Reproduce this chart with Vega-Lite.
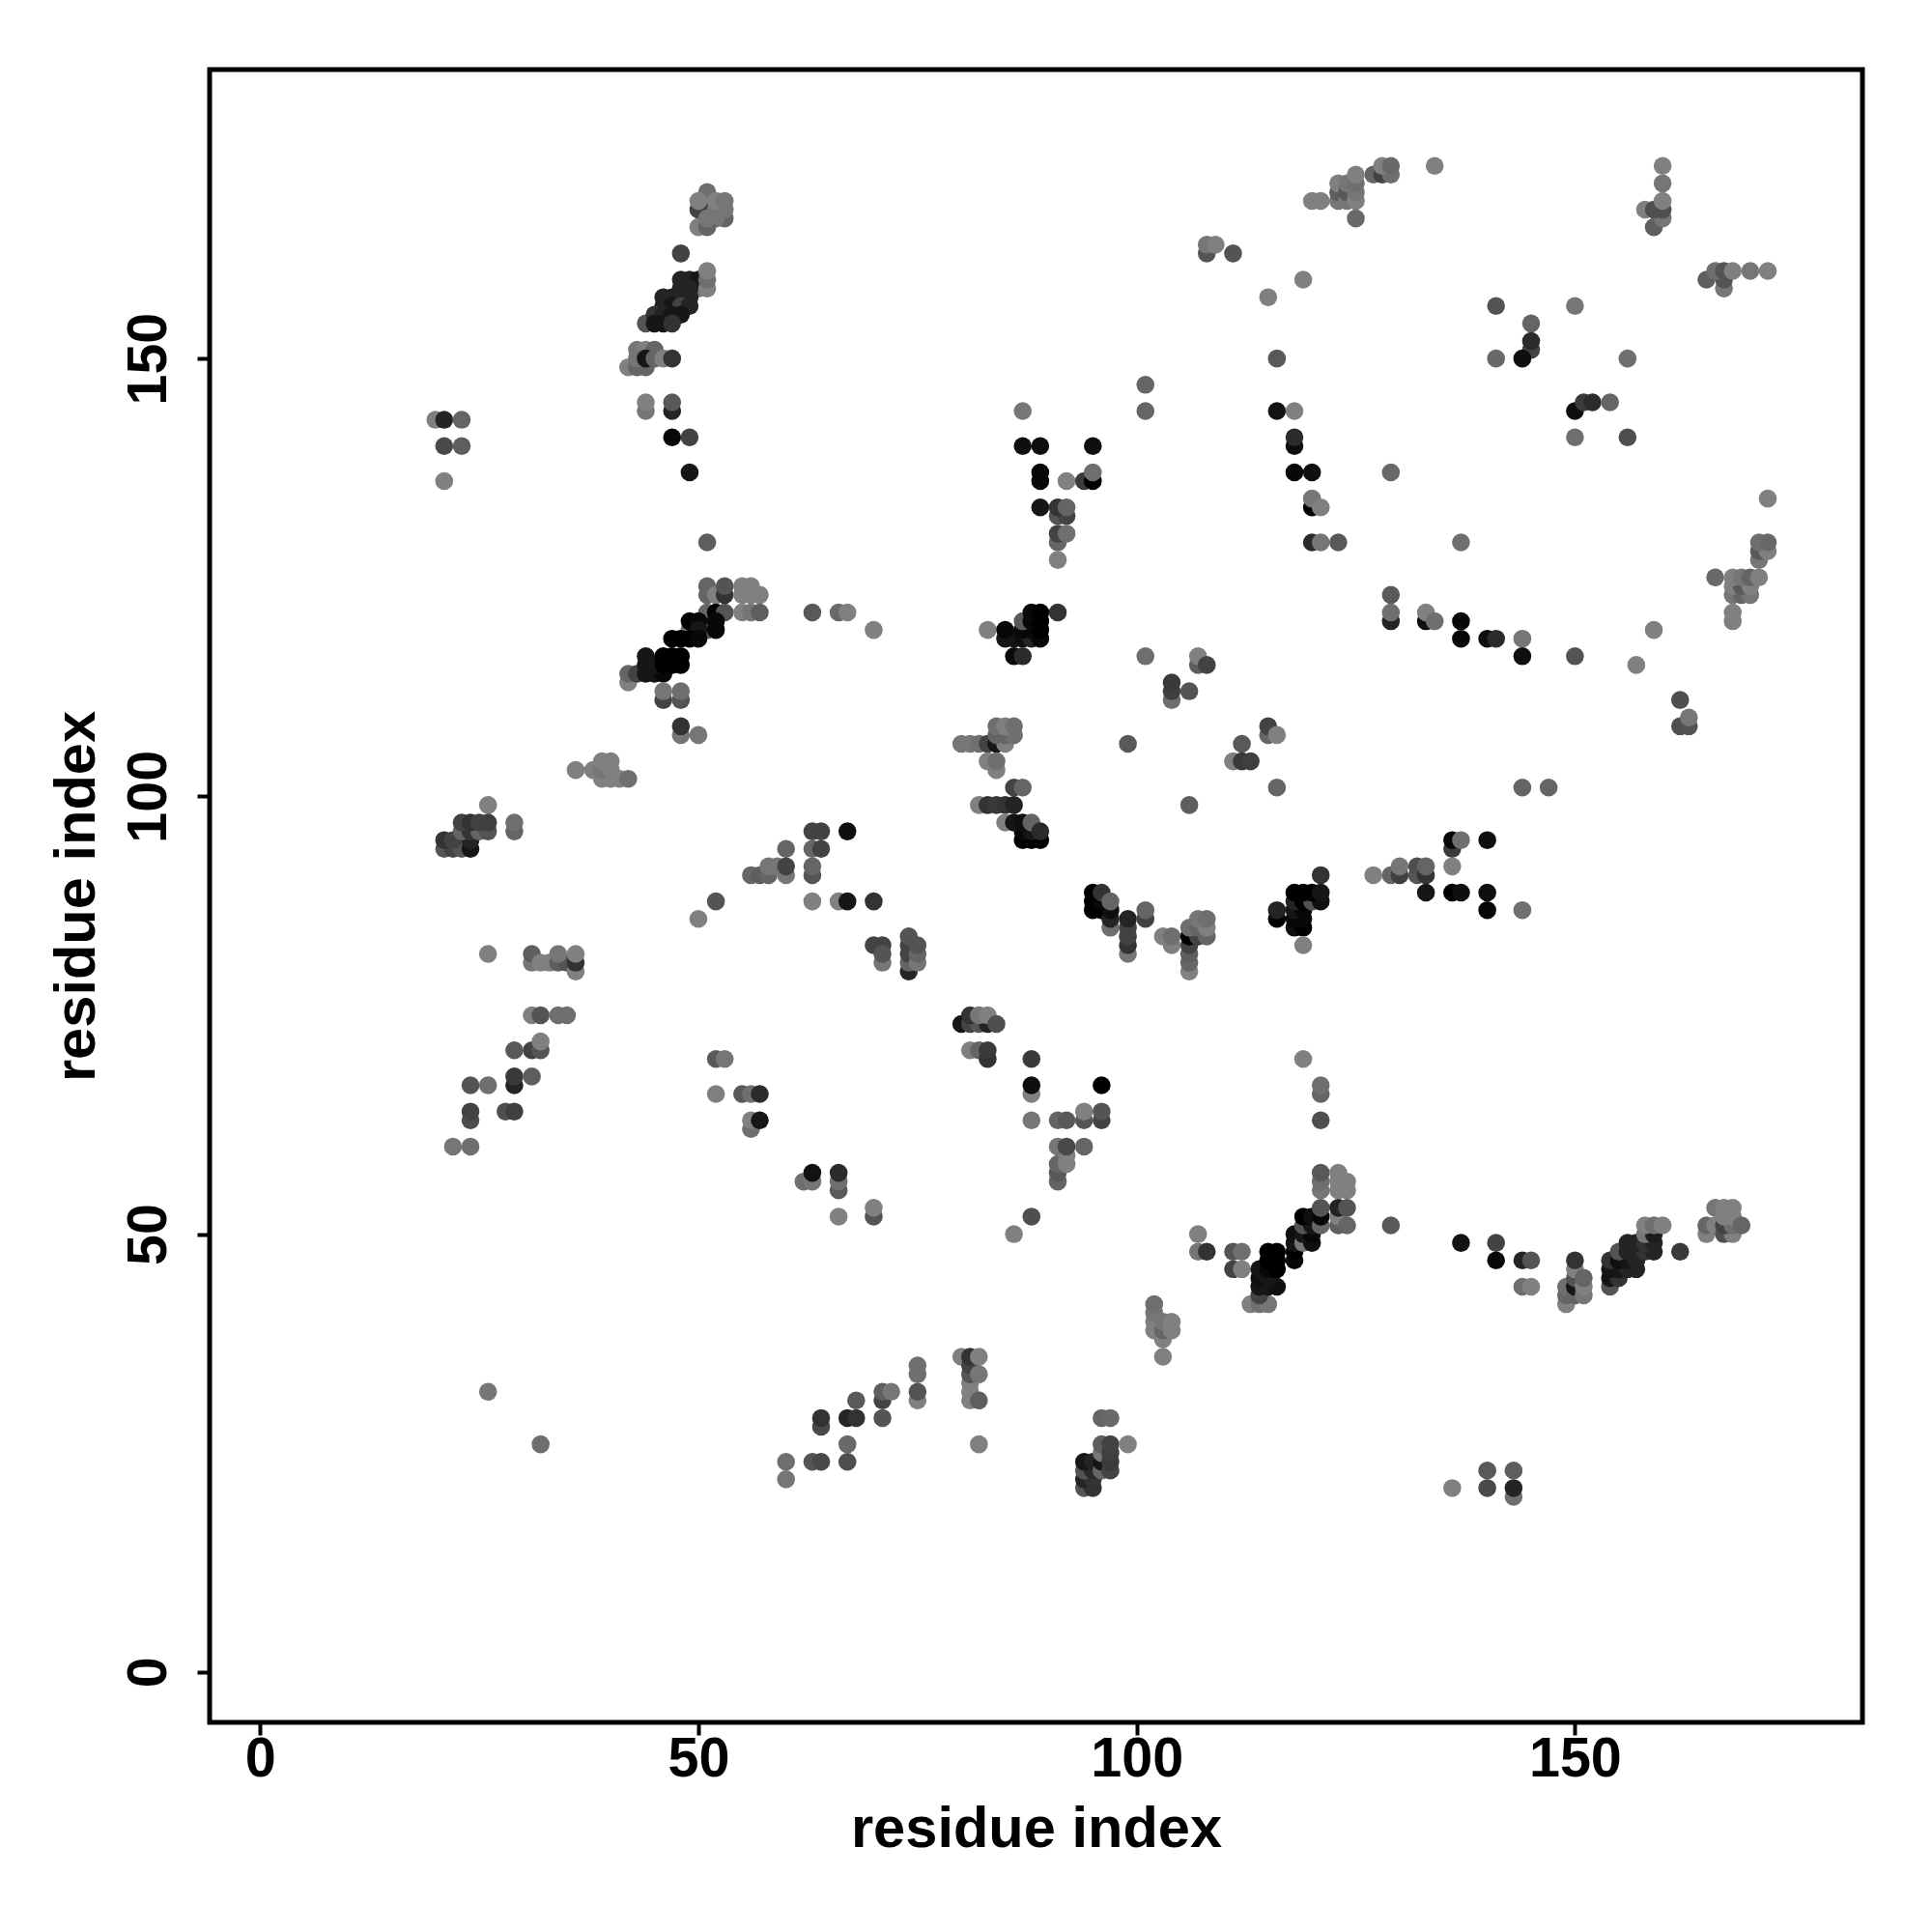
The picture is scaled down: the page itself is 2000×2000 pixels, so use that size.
{"$schema":"https://vega.github.io/schema/vega-lite/v6.json","autosize":{"type":"none"},"padding":{"left":217,"top":72,"right":72,"bottom":217},"width":1711,"height":1711,"background":"white","view":{"stroke":"black","strokeWidth":5,"fill":"white"},"data":{"values":[
{"x":20,"y":143,"g":128},{"x":21,"y":143,"g":34},{"x":23,"y":143,"g":102},{"x":21,"y":140,"g":74},{"x":23,"y":140,"g":95},{"x":21,"y":136,"g":128},
{"x":50,"y":167,"g":68},{"x":51,"y":167,"g":68},{"x":51,"y":169,"g":112},{"x":50,"y":168,"g":128},{"x":53,"y":166,"g":102},{"x":52,"y":166,"g":119},{"x":52,"y":167,"g":119},{"x":53,"y":167,"g":119},{"x":52,"y":168,"g":128},{"x":53,"y":168,"g":119},{"x":50,"y":165,"g":128},{"x":51,"y":165,"g":102},{"x":51,"y":166,"g":119},{"x":48,"y":162,"g":68},
{"x":50,"y":158,"g":119},{"x":48,"y":159,"g":34},{"x":49,"y":159,"g":34},{"x":50,"y":159,"g":17},{"x":48,"y":158,"g":34},{"x":49,"y":158,"g":34},{"x":46,"y":157,"g":34},{"x":47,"y":157,"g":34},{"x":48,"y":157,"g":34},{"x":49,"y":157,"g":34},{"x":46,"y":156,"g":34},{"x":47,"y":156,"g":17},{"x":48,"y":156,"g":68},{"x":49,"y":156,"g":34},{"x":44,"y":154,"g":85},{"x":45,"y":155,"g":51},{"x":46,"y":155,"g":34},{"x":47,"y":155,"g":17},{"x":48,"y":155,"g":17},{"x":45,"y":154,"g":17},{"x":46,"y":154,"g":17},{"x":47,"y":154,"g":51},{"x":51,"y":158,"g":128},{"x":51,"y":159,"g":112},{"x":51,"y":160,"g":128},
{"x":42,"y":149,"g":128},{"x":43,"y":149,"g":102},{"x":44,"y":149,"g":102},{"x":43,"y":151,"g":119},{"x":44,"y":151,"g":128},{"x":45,"y":151,"g":102},{"x":43,"y":150,"g":119},{"x":44,"y":150,"g":17},{"x":45,"y":150,"g":102},{"x":46,"y":150,"g":128},{"x":47,"y":150,"g":51},
{"x":44,"y":144,"g":119},{"x":44,"y":145,"g":128},{"x":47,"y":144,"g":34},{"x":47,"y":145,"g":90},{"x":47,"y":141,"g":5},{"x":49,"y":141,"g":68},{"x":49,"y":137,"g":17},
{"x":51,"y":129,"g":95},{"x":51,"y":123,"g":102},{"x":51,"y":124,"g":102},{"x":52,"y":123,"g":128},{"x":53,"y":123,"g":51},{"x":53,"y":124,"g":85},{"x":55,"y":124,"g":128},{"x":56,"y":124,"g":128},{"x":55,"y":123,"g":128},{"x":56,"y":123,"g":128},{"x":57,"y":123,"g":128},{"x":51,"y":121,"g":102},{"x":52,"y":121,"g":0},{"x":53,"y":121,"g":85},{"x":55,"y":121,"g":128},{"x":56,"y":121,"g":119},{"x":57,"y":121,"g":95},
{"x":49,"y":119,"g":119},{"x":51,"y":119,"g":85},{"x":49,"y":120,"g":0},{"x":50,"y":120,"g":5},{"x":52,"y":120,"g":5},{"x":50,"y":119,"g":17},{"x":52,"y":119,"g":5},{"x":47,"y":118,"g":0},{"x":48,"y":118,"g":0},{"x":49,"y":118,"g":0},{"x":50,"y":118,"g":5},
{"x":42,"y":113,"g":128},{"x":42,"y":114,"g":102},{"x":43,"y":114,"g":68},{"x":44,"y":114,"g":17},{"x":45,"y":114,"g":17},{"x":46,"y":114,"g":5},{"x":44,"y":115,"g":17},{"x":45,"y":115,"g":17},{"x":46,"y":115,"g":0},{"x":47,"y":115,"g":0},{"x":48,"y":115,"g":0},{"x":44,"y":116,"g":17},{"x":46,"y":116,"g":0},{"x":47,"y":116,"g":0},{"x":48,"y":116,"g":0},
{"x":46,"y":111,"g":68},{"x":48,"y":111,"g":85},{"x":46,"y":112,"g":119},{"x":48,"y":112,"g":112},{"x":48,"y":107,"g":119},{"x":50,"y":107,"g":119},{"x":48,"y":108,"g":51},
{"x":36,"y":103,"g":128},{"x":38,"y":103,"g":128},{"x":39,"y":102,"g":128},{"x":40,"y":102,"g":128},{"x":39,"y":103,"g":119},{"x":40,"y":103,"g":128},{"x":39,"y":104,"g":128},{"x":40,"y":104,"g":128},{"x":41,"y":102,"g":128},{"x":42,"y":102,"g":112},
{"x":26,"y":99,"g":128},{"x":21,"y":94,"g":85},{"x":22,"y":94,"g":68},{"x":23,"y":94,"g":85},{"x":24,"y":94,"g":17},{"x":21,"y":95,"g":51},{"x":22,"y":95,"g":68},{"x":24,"y":95,"g":34},{"x":23,"y":96,"g":102},{"x":24,"y":96,"g":51},{"x":25,"y":96,"g":102},{"x":26,"y":96,"g":85},{"x":23,"y":97,"g":68},{"x":24,"y":97,"g":51},{"x":25,"y":97,"g":68},{"x":26,"y":97,"g":64},{"x":29,"y":96,"g":102},{"x":29,"y":97,"g":112},
{"x":60,"y":94,"g":102},{"x":56,"y":91,"g":102},{"x":57,"y":91,"g":95},{"x":58,"y":91,"g":102},{"x":60,"y":91,"g":119},{"x":58,"y":92,"g":119},{"x":59,"y":92,"g":119},{"x":60,"y":92,"g":68},{"x":52,"y":88,"g":85},{"x":50,"y":86,"g":128},
{"x":26,"y":82,"g":128},{"x":31,"y":81,"g":119},{"x":31,"y":82,"g":95},{"x":32,"y":81,"g":128},{"x":33,"y":81,"g":128},{"x":34,"y":81,"g":95},{"x":35,"y":81,"g":85},{"x":34,"y":82,"g":119},{"x":36,"y":80,"g":128},{"x":36,"y":81,"g":51},{"x":36,"y":82,"g":128},
{"x":31,"y":75,"g":128},{"x":32,"y":75,"g":85},{"x":34,"y":75,"g":112},{"x":35,"y":75,"g":112},{"x":29,"y":71,"g":90},{"x":31,"y":71,"g":68},{"x":32,"y":71,"g":85},{"x":32,"y":72,"g":128},{"x":29,"y":67,"g":34},{"x":29,"y":68,"g":58},{"x":31,"y":68,"g":95},{"x":24,"y":67,"g":85},{"x":26,"y":67,"g":112},{"x":24,"y":63,"g":77},{"x":24,"y":64,"g":68},{"x":28,"y":64,"g":80},{"x":29,"y":64,"g":64},{"x":22,"y":60,"g":119},{"x":24,"y":60,"g":112},
{"x":26,"y":32,"g":119},{"x":32,"y":26,"g":112},
{"x":52,"y":70,"g":90},{"x":53,"y":70,"g":119},{"x":52,"y":66,"g":128},{"x":55,"y":66,"g":90},{"x":56,"y":66,"g":112},{"x":57,"y":66,"g":42},{"x":56,"y":62,"g":112},{"x":56,"y":63,"g":128},{"x":57,"y":63,"g":17},
{"x":62,"y":56,"g":112},{"x":63,"y":56,"g":119},{"x":63,"y":57,"g":13},{"x":66,"y":55,"g":90},{"x":66,"y":56,"g":112},{"x":66,"y":57,"g":42},{"x":66,"y":52,"g":128},{"x":70,"y":52,"g":85},{"x":70,"y":53,"g":128},
{"x":88,"y":63,"g":119},{"x":91,"y":63,"g":102},{"x":92,"y":63,"g":90},{"x":94,"y":63,"g":85},{"x":94,"y":64,"g":128},{"x":96,"y":63,"g":68},{"x":96,"y":64,"g":85},{"x":91,"y":56,"g":102},{"x":91,"y":57,"g":90},{"x":91,"y":58,"g":102},{"x":92,"y":58,"g":128},{"x":92,"y":59,"g":128},{"x":91,"y":60,"g":119},{"x":92,"y":60,"g":74},{"x":94,"y":60,"g":102},{"x":88,"y":52,"g":80},{"x":86,"y":50,"g":128},
{"x":60,"y":24,"g":112},{"x":60,"y":22,"g":119},{"x":63,"y":24,"g":85},{"x":64,"y":24,"g":74},{"x":67,"y":26,"g":106},{"x":67,"y":24,"g":80},{"x":64,"y":28,"g":74},{"x":64,"y":29,"g":51},{"x":67,"y":29,"g":34},{"x":68,"y":29,"g":51},{"x":68,"y":31,"g":90},{"x":71,"y":29,"g":85},{"x":71,"y":31,"g":68},{"x":71,"y":32,"g":95},{"x":72,"y":32,"g":119},{"x":75,"y":31,"g":128},{"x":75,"y":32,"g":85},{"x":75,"y":34,"g":112},{"x":75,"y":35,"g":112},
{"x":80,"y":36,"g":128},{"x":81,"y":31,"g":128},{"x":81,"y":32,"g":128},{"x":81,"y":33,"g":128},{"x":81,"y":34,"g":85},{"x":81,"y":35,"g":68},{"x":81,"y":36,"g":51},{"x":82,"y":36,"g":128},{"x":82,"y":34,"g":119},{"x":82,"y":31,"g":95},{"x":82,"y":26,"g":128},
{"x":96,"y":29,"g":102},{"x":97,"y":29,"g":106},{"x":94,"y":21,"g":85},{"x":95,"y":21,"g":51},{"x":94,"y":22,"g":34},{"x":95,"y":22,"g":51},{"x":94,"y":23,"g":85},{"x":95,"y":23,"g":42},{"x":94,"y":24,"g":17},{"x":95,"y":24,"g":34},{"x":96,"y":23,"g":102},{"x":96,"y":24,"g":17},{"x":96,"y":25,"g":119},{"x":96,"y":26,"g":95},{"x":97,"y":23,"g":68},{"x":97,"y":24,"g":58},{"x":97,"y":25,"g":64},{"x":97,"y":26,"g":68},{"x":99,"y":26,"g":128},
{"x":87,"y":144,"g":119},{"x":101,"y":144,"g":102},{"x":101,"y":147,"g":102},{"x":116,"y":144,"g":13},{"x":118,"y":144,"g":128},{"x":87,"y":140,"g":10},{"x":89,"y":140,"g":10},{"x":95,"y":140,"g":10},{"x":118,"y":140,"g":10},{"x":118,"y":141,"g":42},{"x":89,"y":136,"g":5},{"x":89,"y":137,"g":5},{"x":92,"y":136,"g":128},{"x":94,"y":136,"g":58},{"x":95,"y":136,"g":0},{"x":95,"y":137,"g":112},{"x":118,"y":137,"g":5},{"x":120,"y":137,"g":10},
{"x":89,"y":133,"g":17},{"x":91,"y":132,"g":85},{"x":92,"y":132,"g":68},{"x":91,"y":133,"g":51},{"x":92,"y":133,"g":102},{"x":91,"y":129,"g":102},{"x":91,"y":130,"g":68},{"x":92,"y":130,"g":112},{"x":91,"y":127,"g":128},{"x":120,"y":133,"g":0},{"x":120,"y":134,"g":119},{"x":121,"y":133,"g":128},{"x":120,"y":129,"g":42},{"x":121,"y":129,"g":119},{"x":123,"y":129,"g":90},
{"x":83,"y":119,"g":128},{"x":85,"y":118,"g":17},{"x":86,"y":118,"g":17},{"x":87,"y":118,"g":10},{"x":88,"y":118,"g":34},{"x":89,"y":118,"g":5},{"x":85,"y":119,"g":5},{"x":87,"y":119,"g":5},{"x":88,"y":119,"g":5},{"x":89,"y":119,"g":0},{"x":87,"y":120,"g":90},{"x":88,"y":120,"g":5},{"x":89,"y":120,"g":0},{"x":88,"y":121,"g":5},{"x":89,"y":121,"g":0},{"x":91,"y":121,"g":51},{"x":86,"y":116,"g":5},{"x":87,"y":116,"g":42},
{"x":101,"y":116,"g":112},{"x":107,"y":115,"g":95},{"x":107,"y":116,"g":128},{"x":108,"y":115,"g":68},{"x":104,"y":111,"g":112},{"x":104,"y":112,"g":64},{"x":104,"y":113,"g":58},{"x":106,"y":112,"g":85},{"x":99,"y":106,"g":90},{"x":115,"y":107,"g":102},{"x":115,"y":108,"g":68},{"x":116,"y":107,"g":128},{"x":112,"y":106,"g":90},{"x":111,"y":104,"g":128},{"x":112,"y":104,"g":58},{"x":113,"y":104,"g":64},
{"x":80,"y":106,"g":119},{"x":81,"y":106,"g":119},{"x":82,"y":106,"g":112},{"x":83,"y":106,"g":68},{"x":84,"y":106,"g":17},{"x":85,"y":106,"g":128},{"x":84,"y":107,"g":102},{"x":85,"y":107,"g":102},{"x":86,"y":107,"g":112},{"x":84,"y":108,"g":112},{"x":85,"y":108,"g":128},{"x":86,"y":108,"g":112},{"x":84,"y":103,"g":128},{"x":83,"y":104,"g":128},{"x":84,"y":104,"g":112},
{"x":86,"y":101,"g":68},{"x":87,"y":101,"g":102},{"x":82,"y":99,"g":128},{"x":83,"y":99,"g":51},{"x":84,"y":99,"g":58},{"x":85,"y":99,"g":51},{"x":86,"y":99,"g":34},{"x":85,"y":97,"g":128},{"x":87,"y":95,"g":0},{"x":88,"y":95,"g":0},{"x":89,"y":95,"g":0},{"x":87,"y":96,"g":5},{"x":88,"y":96,"g":17},{"x":86,"y":97,"g":17},{"x":87,"y":97,"g":10},{"x":88,"y":97,"g":102},{"x":89,"y":96,"g":42},{"x":106,"y":99,"g":95},{"x":116,"y":101,"g":102},
{"x":95,"y":87,"g":0},{"x":96,"y":87,"g":0},{"x":97,"y":85,"g":112},{"x":97,"y":86,"g":34},{"x":97,"y":87,"g":10},{"x":95,"y":88,"g":0},{"x":96,"y":88,"g":5},{"x":95,"y":89,"g":0},{"x":96,"y":89,"g":51},{"x":97,"y":88,"g":102},
{"x":99,"y":82,"g":119},{"x":99,"y":83,"g":51},{"x":99,"y":84,"g":68},{"x":99,"y":85,"g":68},{"x":99,"y":86,"g":34},{"x":101,"y":86,"g":68},{"x":101,"y":87,"g":102},{"x":103,"y":84,"g":128},{"x":104,"y":83,"g":128},{"x":104,"y":84,"g":112},
{"x":106,"y":80,"g":128},{"x":106,"y":81,"g":102},{"x":106,"y":82,"g":95},{"x":106,"y":83,"g":68},{"x":106,"y":84,"g":0},{"x":107,"y":84,"g":68},{"x":108,"y":84,"g":102},{"x":106,"y":85,"g":112},{"x":107,"y":85,"g":102},{"x":108,"y":85,"g":128},{"x":107,"y":86,"g":119},{"x":108,"y":86,"g":112},
{"x":121,"y":91,"g":51},{"x":116,"y":86,"g":0},{"x":116,"y":87,"g":34},{"x":118,"y":85,"g":10},{"x":119,"y":85,"g":0},{"x":118,"y":86,"g":5},{"x":119,"y":86,"g":5},{"x":118,"y":87,"g":17},{"x":119,"y":87,"g":5},{"x":118,"y":88,"g":34},{"x":119,"y":88,"g":0},{"x":120,"y":88,"g":85},{"x":121,"y":88,"g":10},{"x":118,"y":89,"g":0},{"x":119,"y":89,"g":0},{"x":120,"y":89,"g":0},{"x":121,"y":89,"g":17},{"x":119,"y":83,"g":128},
{"x":80,"y":74,"g":17},{"x":81,"y":74,"g":68},{"x":82,"y":74,"g":85},{"x":83,"y":74,"g":34},{"x":81,"y":75,"g":51},{"x":82,"y":75,"g":119},{"x":83,"y":75,"g":128},{"x":84,"y":74,"g":80},{"x":81,"y":71,"g":128},{"x":82,"y":71,"g":102},{"x":83,"y":70,"g":51},{"x":83,"y":71,"g":58},{"x":88,"y":70,"g":58},{"x":88,"y":66,"g":128},{"x":88,"y":67,"g":10},{"x":96,"y":67,"g":0},
{"x":119,"y":70,"g":128},{"x":121,"y":66,"g":102},{"x":121,"y":67,"g":112},{"x":121,"y":63,"g":80},
{"x":63,"y":96,"g":68},{"x":64,"y":96,"g":68},{"x":63,"y":94,"g":102},{"x":64,"y":94,"g":68},{"x":63,"y":91,"g":85},{"x":63,"y":92,"g":102},{"x":63,"y":88,"g":128},{"x":66,"y":88,"g":128},{"x":67,"y":88,"g":17},{"x":67,"y":96,"g":10},{"x":70,"y":88,"g":51},
{"x":70,"y":83,"g":68},{"x":71,"y":83,"g":68},{"x":71,"y":81,"g":119},{"x":71,"y":82,"g":85},{"x":74,"y":80,"g":34},{"x":74,"y":81,"g":102},{"x":74,"y":82,"g":68},{"x":74,"y":83,"g":68},{"x":74,"y":84,"g":85},{"x":75,"y":81,"g":119},{"x":75,"y":82,"g":102},{"x":75,"y":83,"g":85},
{"x":63,"y":121,"g":90},{"x":66,"y":121,"g":106},{"x":67,"y":121,"g":128},{"x":70,"y":119,"g":128},
{"x":107,"y":50,"g":128},{"x":107,"y":48,"g":119},{"x":108,"y":48,"g":51},{"x":111,"y":48,"g":85},{"x":112,"y":48,"g":112},{"x":111,"y":46,"g":68},{"x":112,"y":46,"g":128},
{"x":113,"y":42,"g":128},{"x":114,"y":42,"g":112},{"x":115,"y":42,"g":119},{"x":114,"y":43,"g":68},{"x":114,"y":44,"g":17},{"x":115,"y":44,"g":17},{"x":116,"y":44,"g":10},{"x":114,"y":45,"g":10},{"x":115,"y":45,"g":17},{"x":114,"y":46,"g":17},{"x":115,"y":46,"g":5},{"x":116,"y":46,"g":0},{"x":115,"y":47,"g":0},{"x":116,"y":47,"g":0},{"x":115,"y":48,"g":0},{"x":116,"y":48,"g":0},
{"x":118,"y":47,"g":5},{"x":118,"y":48,"g":0},{"x":118,"y":49,"g":17},{"x":118,"y":50,"g":10},{"x":119,"y":49,"g":119},{"x":120,"y":49,"g":10},{"x":119,"y":50,"g":17},{"x":120,"y":50,"g":5},{"x":119,"y":51,"g":85},{"x":120,"y":51,"g":17},{"x":119,"y":52,"g":0},{"x":120,"y":52,"g":10},{"x":121,"y":51,"g":102},{"x":121,"y":52,"g":5},{"x":121,"y":53,"g":85},
{"x":121,"y":55,"g":119},{"x":121,"y":56,"g":112},{"x":121,"y":57,"g":90},{"x":123,"y":55,"g":128},{"x":124,"y":55,"g":128},{"x":123,"y":56,"g":128},{"x":124,"y":56,"g":128},{"x":123,"y":57,"g":128},{"x":123,"y":51,"g":95},{"x":123,"y":52,"g":128},{"x":123,"y":53,"g":34},{"x":124,"y":53,"g":85},{"x":124,"y":51,"g":102},{"x":129,"y":51,"g":90},{"x":137,"y":49,"g":13},{"x":141,"y":49,"g":68},{"x":141,"y":47,"g":5},
{"x":102,"y":39,"g":128},{"x":102,"y":40,"g":128},{"x":102,"y":41,"g":119},{"x":102,"y":42,"g":112},{"x":103,"y":38,"g":128},{"x":103,"y":39,"g":102},{"x":103,"y":40,"g":119},{"x":104,"y":39,"g":128},{"x":104,"y":40,"g":128},{"x":103,"y":36,"g":128},
{"x":136,"y":21,"g":128},{"x":140,"y":23,"g":90},{"x":140,"y":21,"g":74},{"x":143,"y":20,"g":112},{"x":143,"y":21,"g":34},{"x":143,"y":23,"g":95},
{"x":144,"y":47,"g":34},{"x":145,"y":47,"g":85},{"x":144,"y":44,"g":112},{"x":145,"y":44,"g":128},
{"x":149,"y":42,"g":128},{"x":149,"y":43,"g":102},{"x":149,"y":44,"g":112},{"x":150,"y":43,"g":102},{"x":150,"y":44,"g":17},{"x":150,"y":45,"g":85},{"x":150,"y":46,"g":128},{"x":151,"y":43,"g":119},{"x":151,"y":44,"g":128},{"x":151,"y":45,"g":102},{"x":150,"y":47,"g":51},
{"x":154,"y":44,"g":85},{"x":154,"y":45,"g":17},{"x":155,"y":45,"g":51},{"x":154,"y":46,"g":17},{"x":155,"y":46,"g":17},{"x":156,"y":46,"g":34},{"x":157,"y":46,"g":34},{"x":154,"y":47,"g":51},{"x":155,"y":47,"g":10},{"x":156,"y":47,"g":17},{"x":157,"y":47,"g":34},{"x":155,"y":48,"g":85},{"x":156,"y":48,"g":34},{"x":157,"y":48,"g":34},{"x":158,"y":48,"g":51},{"x":159,"y":48,"g":34},{"x":156,"y":49,"g":34},{"x":157,"y":49,"g":34},{"x":158,"y":49,"g":51},{"x":159,"y":49,"g":34},{"x":158,"y":50,"g":119},{"x":159,"y":50,"g":25},{"x":158,"y":51,"g":128},{"x":159,"y":51,"g":112},{"x":160,"y":51,"g":128},{"x":162,"y":48,"g":58},
{"x":165,"y":50,"g":128},{"x":165,"y":51,"g":102},{"x":166,"y":51,"g":128},{"x":167,"y":50,"g":80},{"x":168,"y":50,"g":128},{"x":167,"y":51,"g":68},{"x":168,"y":51,"g":112},{"x":166,"y":53,"g":119},{"x":167,"y":52,"g":128},{"x":168,"y":52,"g":128},{"x":167,"y":53,"g":128},{"x":168,"y":53,"g":128},{"x":169,"y":51,"g":102},
{"x":144,"y":101,"g":102},{"x":147,"y":101,"g":102},{"x":136,"y":94,"g":58},{"x":136,"y":95,"g":5},{"x":137,"y":95,"g":112},{"x":140,"y":95,"g":10},{"x":136,"y":92,"g":128},{"x":127,"y":91,"g":128},{"x":129,"y":91,"g":102},{"x":130,"y":91,"g":64},{"x":130,"y":92,"g":119},{"x":132,"y":91,"g":85},{"x":132,"y":92,"g":80},{"x":133,"y":91,"g":51},{"x":133,"y":92,"g":102},{"x":133,"y":89,"g":17},{"x":136,"y":89,"g":0},{"x":137,"y":89,"g":10},{"x":140,"y":89,"g":10},{"x":140,"y":87,"g":5},{"x":144,"y":87,"g":112},
{"x":134,"y":172,"g":128},{"x":127,"y":171,"g":102},{"x":128,"y":171,"g":68},{"x":129,"y":171,"g":112},{"x":128,"y":172,"g":128},{"x":129,"y":172,"g":106},{"x":120,"y":168,"g":128},{"x":121,"y":168,"g":128},{"x":123,"y":168,"g":119},{"x":123,"y":169,"g":95},{"x":123,"y":170,"g":128},{"x":124,"y":168,"g":119},{"x":124,"y":169,"g":90},{"x":124,"y":170,"g":119},{"x":125,"y":166,"g":106},{"x":125,"y":168,"g":128},{"x":125,"y":169,"g":119},{"x":125,"y":170,"g":112},{"x":125,"y":171,"g":128},
{"x":108,"y":162,"g":85},{"x":111,"y":162,"g":85},{"x":108,"y":163,"g":119},{"x":109,"y":163,"g":128},{"x":119,"y":159,"g":128},{"x":115,"y":157,"g":128},{"x":116,"y":150,"g":90},
{"x":141,"y":156,"g":85},{"x":150,"y":156,"g":119},{"x":145,"y":154,"g":102},{"x":145,"y":151,"g":68},{"x":145,"y":152,"g":42},{"x":144,"y":150,"g":10},{"x":141,"y":150,"g":106},{"x":156,"y":150,"g":112},{"x":150,"y":144,"g":10},{"x":151,"y":145,"g":58},{"x":152,"y":145,"g":42},{"x":154,"y":145,"g":102},{"x":150,"y":141,"g":112},{"x":156,"y":141,"g":80},{"x":129,"y":137,"g":106},
{"x":159,"y":165,"g":95},{"x":160,"y":166,"g":119},{"x":158,"y":167,"g":128},{"x":159,"y":167,"g":80},{"x":160,"y":167,"g":80},{"x":160,"y":168,"g":128},{"x":160,"y":170,"g":119},{"x":160,"y":172,"g":128},
{"x":167,"y":158,"g":119},{"x":165,"y":159,"g":95},{"x":167,"y":159,"g":85},{"x":166,"y":160,"g":112},{"x":167,"y":160,"g":85},{"x":168,"y":160,"g":128},{"x":170,"y":160,"g":119},{"x":172,"y":160,"g":128},{"x":172,"y":134,"g":128},
{"x":137,"y":129,"g":112},{"x":171,"y":127,"g":119},{"x":171,"y":128,"g":90},{"x":172,"y":128,"g":128},{"x":171,"y":129,"g":112},{"x":172,"y":129,"g":106},{"x":166,"y":125,"g":106},{"x":168,"y":123,"g":119},{"x":169,"y":123,"g":102},{"x":170,"y":123,"g":119},{"x":168,"y":124,"g":128},{"x":169,"y":124,"g":90},{"x":170,"y":124,"g":128},{"x":168,"y":125,"g":128},{"x":169,"y":125,"g":119},{"x":170,"y":125,"g":102},{"x":171,"y":125,"g":128},{"x":168,"y":120,"g":128},{"x":168,"y":121,"g":128},{"x":159,"y":119,"g":128},{"x":157,"y":115,"g":128},
{"x":129,"y":123,"g":90},{"x":129,"y":120,"g":34},{"x":129,"y":121,"g":112},{"x":133,"y":120,"g":10},{"x":133,"y":121,"g":128},{"x":134,"y":120,"g":112},{"x":137,"y":120,"g":5},{"x":137,"y":118,"g":5},{"x":140,"y":118,"g":10},{"x":141,"y":118,"g":42},{"x":144,"y":118,"g":119},{"x":144,"y":116,"g":10},{"x":150,"y":116,"g":85},{"x":162,"y":111,"g":80},{"x":162,"y":108,"g":80},{"x":163,"y":108,"g":85},{"x":163,"y":109,"g":119}
]},"mark":{"type":"point","filled":true,"opacity":1,"strokeWidth":0,"size":345,"clip":false},"encoding":{"x":{"field":"x","type":"quantitative","scale":{"domain":[-5.76,182.8],"nice":false,"zero":false},"axis":{"values":[0,50,100,150],"title":"residue index","grid":false,"domain":false,"tickColor":"black","tickWidth":4,"tickSize":13,"labelFont":"Liberation Sans","labelFontWeight":"bold","labelFontSize":57.5,"labelColor":"black","labelPadding":-3,"labelOverlap":false,"labelFlush":false,"titleFont":"Liberation Sans","titleFontWeight":"bold","titleFontSize":59.6,"titleColor":"black","titleY":110,"titleBaseline":"middle"}},"y":{"field":"y","type":"quantitative","scale":{"domain":[-5.76,183],"nice":false,"zero":false},"axis":{"values":[0,50,100,150],"title":"residue index","grid":false,"domain":false,"tickColor":"black","tickWidth":4,"tickSize":13,"labelFont":"Liberation Sans","labelFontWeight":"bold","labelFontSize":57.5,"labelColor":"black","labelAngle":-90,"labelAlign":"center","labelBaseline":"bottom","labelPadding":21,"labelOverlap":false,"labelFlush":false,"titleFont":"Liberation Sans","titleFontWeight":"bold","titleFontSize":59.6,"titleColor":"black","titleX":-138,"titleBaseline":"middle"}},"color":{"field":"g","type":"quantitative","legend":null,"scale":{"domain":[0,128],"range":["#000000","#808080"],"clamp":true}}}}
